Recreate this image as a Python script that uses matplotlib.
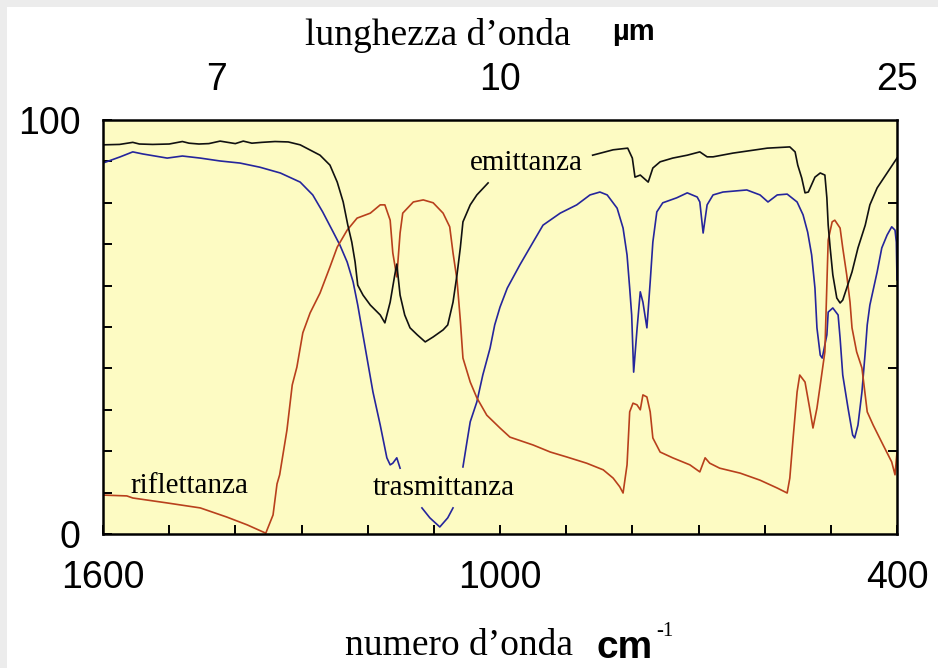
import numpy as np
import matplotlib.pyplot as plt
from matplotlib.patches import Rectangle

nan = np.nan

# emittanza (black); broken where the label sits
emi_wn = [1600, 1575, 1555, 1545, 1525, 1500, 1480, 1470, 1455, 1440, 1423, 1400, 1388, 1375,
          1360, 1340, 1320, 1302, 1272, 1257, 1246, 1237, 1230, 1224, 1219, 1215, 1207, 1196,
          1181, 1174, 1166, 1159, 1156, 1151, 1144, 1136, 1125, 1113, 1101, 1086, 1079, 1071,
          1065, 1060, 1056, 1045, 1035, 1018, nan,
          860, 829, 807, 800, 796, 788, 776, 769, 758, 739, 717, 698, 687, 678, 648, 596, 562,
          554, 550, 544, 539, 534, 524, 516, 509, 506, 504, 501, 497, 491, 486, 482, 476, 468,
          459, 448, 441, 430, 415, 400]
emi_val = [94.0, 94.1, 94.6, 94.2, 94.1, 94.2, 94.8, 94.4, 94.2, 94.3, 94.9, 94.3, 94.9, 94.4,
           94.6, 94.8, 94.7, 94.0, 91.5, 89.1, 85.0, 80.2, 74.6, 70.5, 65.7, 60.1, 57.7, 55.3,
           52.9, 51.0, 56.0, 62.6, 65.2, 57.7, 52.9, 49.8, 48.1, 46.4, 47.6, 49.3, 50.5, 56.0,
           62.6, 69.1, 75.4, 79.5, 81.9, 84.8, nan,
           91.5, 92.8, 93.2, 90.8, 86.2, 86.7, 85.0, 88.4, 89.9, 90.8, 91.5, 92.3, 91.1, 91.1,
           92.0, 93.2, 93.5, 92.3, 89.1, 86.0, 82.4, 82.6, 86.2, 87.2, 86.7, 81.2, 74.6, 69.1,
           62.6, 57.0, 55.8, 56.5, 59.4, 63.3, 69.1, 74.6, 79.5, 83.6, 87.2, 90.8]

# trasmittanza (blue); broken around its label
tra_wn = [1600, 1574, 1555, 1540, 1503, 1480, 1453, 1423, 1393, 1363, 1332, 1302, 1283, 1268,
          1252, 1242, 1231, 1222, 1215, 1209, 1201, 1192, 1181, 1171, 1166, 1162, 1156, 1151, nan,
          1118, 1106, 1091, 1079, 1071, nan,
          1056, 1050, 1045, 1035, 1026, 1015, 1008, 1000, 989, 970, 950, 935, 909, 884, 864,
          849, 838, 823, 814, 808, 804, 801, 798, 793, 788, 784, 778, 773, 769, 763, 754, 733,
          717, 702, 698, 693, 687, 678, 663, 627, 607, 595, 581, 566, 551, 542, 535, 529, 524,
          521, 516, 513, 506, 504, 497, 489, 486, 482, 474, 467, 464, 459, 453, 448, 445, 441,
          430, 423, 415, 408, 403, 401, 400]
tra_val = [89.6, 91.1, 92.3, 91.8, 90.8, 91.3, 90.8, 90.1, 89.6, 88.6, 87.2, 85.0, 81.9, 77.8,
           72.9, 69.8, 65.7, 60.9, 55.3, 49.8, 42.5, 34.3, 26.3, 18.4, 16.7, 17.1, 18.4, 15.9, nan,
           6.3, 3.9, 1.7, 3.9, 6.3, nan,
           16.2, 22.2, 27.1, 31.9, 38.4, 44.9, 50.5, 54.8, 59.4, 65.0, 70.5, 74.6, 77.5, 79.5,
           81.9, 82.6, 81.9, 78.7, 73.9, 67.4, 59.4, 52.9, 39.1, 49.3, 58.5, 56.0, 49.8, 60.9,
           70.5, 77.8, 80.0, 81.2, 82.4, 81.4, 80.2, 72.7, 79.5, 81.9, 82.6, 83.1, 81.9, 80.2,
           81.9, 82.1, 80.2, 77.1, 72.9, 67.4, 59.4, 49.8, 43.2, 42.5, 48.1, 53.6, 54.6, 52.9,
           47.3, 38.4, 30.4, 23.9, 23.2, 26.3, 34.3, 44.0, 50.5, 55.3, 63.3, 69.1, 72.2, 74.2,
           73.4, 70.5, 61.4]

# riflettanza (red)
rif_wn = [1600, 1564, 1555, 1503, 1453, 1413, 1382, 1354, 1343, 1337, 1333, 1322, 1314, 1307,
          1298, 1287, 1272, 1257, 1246, 1231, 1216, 1196, 1181, 1174, 1166, 1162, 1156, 1151,
          1147, 1131, 1116, 1101, 1086, 1076, 1071, 1065, 1060, 1056, 1045, 1035, 1020, 1000,
          985, 950, 924, 899, 869, 844, 829, 819, 814, 808, 804, 799, 793, 788, 784, 778, 773,
          769, 758, 739, 713, 698, 690, 683, 668, 637, 607, 581, 566, 562, 557, 551, 547, 539,
          532, 527, 521, 516, 509, 504, 498, 494, 486, 482, 476, 471, 468, 461, 453, 445, 436,
          421, 408, 403, 400]
rif_val = [9.4, 9.2, 8.7, 7.5, 6.3, 4.1, 2.2, 0.2, 4.6, 12.1, 14.3, 25.1, 36.0, 40.3,
           48.6, 53.4, 58.2, 64.5, 69.3, 73.4, 76.3, 77.5, 79.5, 79.5, 75.8, 67.9, 62.1, 72.7,
           77.5, 80.2, 80.7, 80.0, 77.5, 74.2, 67.9, 61.4, 51.7, 42.5, 36.7, 32.9, 28.7, 25.6,
           23.4, 21.5, 19.8, 18.6, 17.1, 15.5, 13.5, 11.4, 9.9, 16.7, 29.5, 31.6, 31.2, 30.0,
           33.6, 33.1, 29.5, 23.2, 19.8, 18.4, 16.7, 15.0, 18.4, 17.1, 15.9, 14.7, 13.0, 11.1,
           9.9, 13.5, 23.2, 34.3, 38.4, 36.7, 30.4, 25.6, 30.4, 36.0, 44.0, 71.0, 75.4, 75.8,
           73.9, 69.1, 62.6, 56.0, 49.8, 44.0, 40.1, 29.5, 26.3, 21.5, 17.4, 14.3, 19.8]

bottom_ticks = [1600, 1000, 400]
bottom_labels = ['1600', '1000', '400']
top_um = [7, 10, 25]
left_ticks = [0, 100]

sans = 'Liberation Sans'
serif = 'Liberation Serif'

fig = plt.figure(figsize=(9.38, 6.68), dpi=100)
fig.patch.set_facecolor('#ececec')
fig.add_artist(Rectangle((7 / 938, 0), 1, 1 - 7 / 668, transform=fig.transFigure,
                         facecolor='white', edgecolor='none', zorder=-1))

ax = fig.add_axes([103 / 938, 134 / 668, 794 / 938, 414 / 668])
ax.set_facecolor('#fdfbc3')

ax.plot(tra_wn, tra_val, color='#25259c', lw=1.2)
ax.plot(rif_wn, rif_val, color='#b8401c', lw=1.2)
ax.plot(emi_wn, emi_val, color='#111111', lw=1.2)

ax.set_xlim(1600, 400)
ax.set_ylim(0, 100)

ax.set_xticks(bottom_ticks)
ax.set_xticklabels(bottom_labels, family=sans, fontsize=27)
ax.set_xticks(np.arange(400, 1601, 100), minor=True)
ax.set_yticks(left_ticks)
ax.set_yticklabels([str(v) for v in left_ticks], family=sans, fontsize=27)
ax.set_yticks(np.arange(0, 101, 10), minor=True)
ax.tick_params(which='both', direction='in', length=6.5, width=1.4, top=True, right=False)
ax.tick_params(axis='x', pad=19)
ax.tick_params(axis='y', pad=16)
for s in ax.spines.values():
    s.set_linewidth(1.8)

# right-hand ticks every 20
axr = ax.twinx()
axr.set_ylim(0, 100)
axr.set_yticks([20, 40, 60, 80])
axr.tick_params(direction='in', length=6.5, width=1.4, labelright=False)
axr.spines[:].set_visible(False)

# wavelength scale on top
axt = ax.twiny()
axt.set_xlim(1600, 400)
axt.set_xticks([10000 / u for u in top_um])
axt.set_xticklabels([str(u) for u in top_um], family=sans, fontsize=27)
axt.tick_params(length=0, pad=16)
axt.spines[:].set_visible(False)

ax.text(1045, 87.9, 'emittanza', family=serif, fontsize=21, va='baseline')
ax.text(1559, 9.9, 'riflettanza', family=serif, fontsize=21, va='baseline')
ax.text(1193, 9.4, 'trasmittanza', family=serif, fontsize=21, va='baseline')

fig.text(305 / 938, 1 - 45 / 668, 'lunghezza d’onda', family=serif, fontsize=27, va='baseline')
fig.text(612 / 938, 1 - 40 / 668, 'µm', family=sans, fontsize=21, weight='bold', va='baseline')
fig.text(345 / 938, 1 - 655 / 668, 'numero d’onda', family=serif, fontsize=27, va='baseline')
fig.text(596 / 938, 1 - 658 / 668, 'cm', family=sans, fontsize=28, weight='bold', va='baseline')
fig.text(656 / 938, 1 - 636 / 668, '-1', family=serif, fontsize=15, va='baseline')

fig.savefig('out.png', dpi=100)
